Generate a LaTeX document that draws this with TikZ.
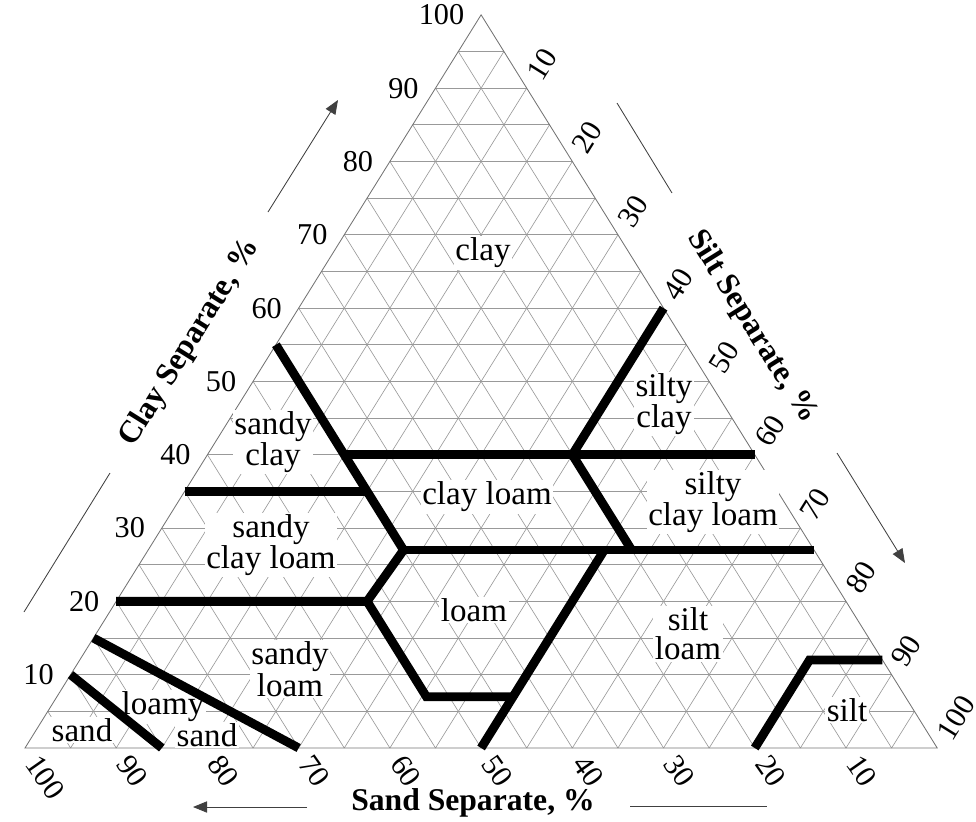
\documentclass[tikz,border=0pt]{standalone}
\usepackage{fontspec}
\setmainfont{Liberation Serif}
\usetikzlibrary{arrows.meta}

\begin{document}
\begin{tikzpicture}[x=0.025cm, y=-0.025cm,
  gridline/.style={draw=black!40, line width=0.45pt},
  frame/.style={draw=black!55, line width=0.6pt},
  bound/.style={draw=black, line width=6.3pt},
  soil/.style={font=\fontsize{23.5}{20.5}\selectfont, fill=white, inner sep=1.2pt, align=center},
  tick/.style={font=\fontsize{21.5}{22}\selectfont, inner sep=1pt},
  axtitle/.style={font=\bfseries\fontsize{22.5}{24}\selectfont, inner sep=1pt},
  axarrow/.style={draw=black!75, line width=0.6pt},
  tip/.style={-{Triangle[length=10pt,width=8pt]}}]

\useasboundingbox (0,0) rectangle (976,822);

% ternary frame: x axis = silt %, y axis = clay %
\begin{scope}[shift={(25,748)}, x={(0.228cm,0cm)}, y={(0.114cm,0.18325cm)}]
  % 5 % grid in the three directions
  \foreach \v in {5,10,...,95}{
    \draw[gridline] (0,\v) -- ({100-\v},\v);
    \draw[gridline] (\v,0) -- (\v,{100-\v});
    \draw[gridline] (0,{100-\v}) -- ({100-\v},0);
  }
  \draw[frame] (0,0) -- (100,0) -- (0,100) -- cycle;

  % corner points of the texture classes
  \coordinate (sdA) at (0,10);    \coordinate (sdB) at (15,0);
  \coordinate (lsA) at (0,15);    \coordinate (lsB) at (30,0);
  \coordinate (slA) at (0,20);    \coordinate (slB) at (27.5,20);
  \coordinate (slC) at (40.5,7);  \coordinate (slD) at (50,7);
  \coordinate (lmA) at (50,0);    \coordinate (lmB) at (50,27);
  \coordinate (clA) at (28,27);   \coordinate (clB) at (0,55);
  \coordinate (clC) at (73,27);
  \coordinate (scA) at (0,35);    \coordinate (scB) at (20,35);
  \coordinate (cyA) at (15,40);   \coordinate (cyB) at (60,40);
  \coordinate (syA) at (40,60);   \coordinate (syB) at (40,40);
  \coordinate (syC) at (53,27);
  \coordinate (stA) at (80,0);    \coordinate (stB) at (80,12);
  \coordinate (stC) at (88,12);

  % tick numbers
  \foreach \v in {10,20,...,100}{
    \node[tick, anchor=east, xshift=-0.38cm] (clayt\v) at (0,\v) {\v};
    \node[tick, anchor=west, xshift=0.15cm, yshift=0.24cm, rotate=58] (siltt\v) at (\v,{100-\v}) {\v};
    \node[tick, anchor=west, xshift=0.16cm, yshift=-0.23cm, rotate=-55] (sandt\v) at ({100-\v},0) {\v};
  }
\end{scope}

% class names
\node[soil] (lclay)   at (483,253) {clay};
\node[soil] (lsic)    at (664,404) {silty\\clay};
\node[soil] (lsc)     at (273,442) {sandy\\clay};
\node[soil] (lcl)     at (487,497) {clay loam};
\node[soil] (lsicl)   at (713,502) {silty\\clay loam};
\node[soil] (lscl)    at (271,545) {sandy\\clay loam};
\node[soil] (lloam)   at (474,610) {loam};
\node[soil] (lsil)    at (688,634) {silt\\loam};
\node[soil] (lsl)     at (290,669) {sandy\\loam};
\node[soil] (lls1)    at (163,707) {loamy};
\node[soil] (lls2)    at (207,735) {sand};
\node[soil] (lsand)   at (82,730)  {sand};
\node[soil] (lsilt)   at (847,710) {silt};

% class boundaries
\draw[bound] (sdA) -- (sdB);
\draw[bound] (lsA) -- (lsB);
\draw[bound] (slA) -- (slB) -- (slC) -- (slD);
\draw[bound] (lmA) -- (lmB);
\draw[bound] (slB) -- (clA) -- (clB);
\draw[bound] (clA) -- (clC);
\draw[bound] (scA) -- (scB);
\draw[bound] (cyA) -- (cyB);
\draw[bound] (syA) -- (syB) -- (syC);
\draw[bound] (stA) -- (stB) -- (stC);

% axis titles with their direction arrows
\node[axtitle, rotate=58]  (tclay) at (190,343) {Clay Separate, \%};
\node[axtitle, rotate=-58] (tsilt) at (752,327) {Silt Separate, \%};
\node[axtitle]             (tsand) at (473,803) {Sand Separate, \%};

\coordinate (ca1) at (24,612);  \coordinate (ca2) at (110,473);
\coordinate (ca3) at (268,212); \coordinate (ca4) at (338,100);
\draw[axarrow] (ca1) -- (ca2);
\draw[axarrow, tip] (ca3) -- (ca4);

\coordinate (sa1) at (617,103); \coordinate (sa2) at (672,193);
\coordinate (sa3) at (837,453); \coordinate (sa4) at (905,563);
\draw[axarrow] (sa1) -- (sa2);
\draw[axarrow, tip] (sa3) -- (sa4);

\coordinate (na1) at (307,807); \coordinate (na2) at (193,807);
\coordinate (na3) at (630,806); \coordinate (na4) at (767,806);
\draw[axarrow, tip] (na1) -- (na2);
\draw[axarrow] (na3) -- (na4);
\end{tikzpicture}
\end{document}
